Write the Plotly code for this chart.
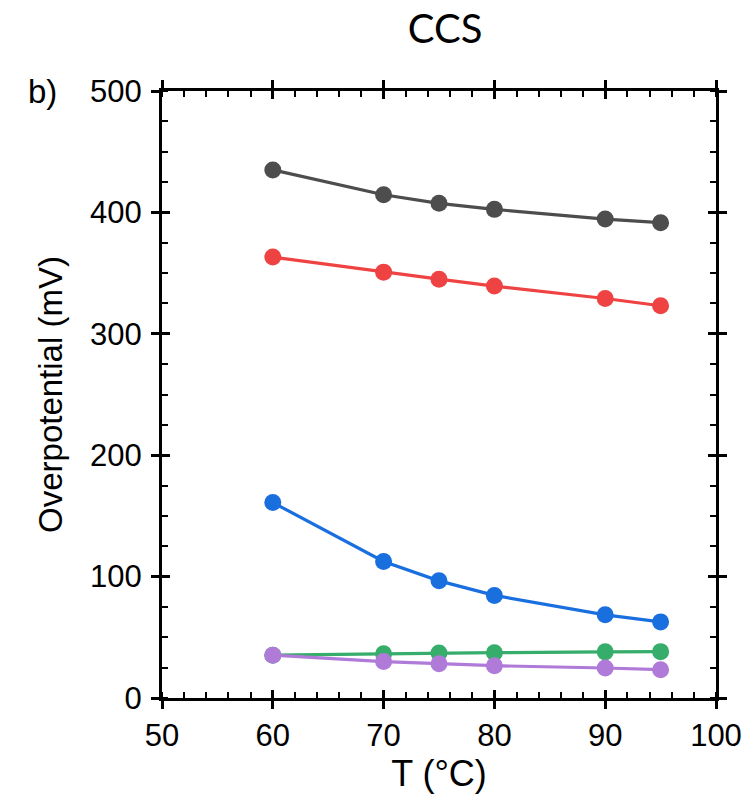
import plotly.graph_objects as go

temps = [60, 70, 75, 80, 90, 95]
gray_vals = [435, 414.5, 407.5, 402.5, 394.5, 391.5]
red_vals = [363.2, 350.8, 345, 339.3, 329.1, 323.1]
blue_vals = [161, 112.5, 96.5, 84.5, 68.5, 62.7]
green_vals = [35.3, 36.5, 37, 37.3, 38, 38.2]
purple_vals = [35.3, 30, 28.3, 26.6, 24.7, 23.3]

series = [
    ("gray", gray_vals, "#4d4d4d"),
    ("red", red_vals, "#ef4343"),
    ("blue", blue_vals, "#1a6fdf"),
    ("green", green_vals, "#37ad6b"),
    ("purple", purple_vals, "#b07ad9"),
]

x_ticks = [50, 60, 70, 80, 90, 100]
y_ticks = [0, 100, 200, 300, 400, 500]

fig = go.Figure()
for name, vals, col in series:
    fig.add_trace(go.Scatter(
        x=temps, y=vals, mode="lines+markers", name=name,
        line=dict(color=col, width=3.2),
        marker=dict(color=col, size=17),
        showlegend=False, hoverinfo="skip",
    ))
# invisible trace on overlay axes so the crossing inner ticks get drawn
fig.add_trace(go.Scatter(x=temps, y=gray_vals, xaxis="x2", yaxis="y2",
                         mode="markers", marker=dict(opacity=0), showlegend=False,
                         hoverinfo="skip"))

font_family = "Liberation Sans, Arial, sans-serif"
axis_common = dict(
    showline=True, linecolor="black", linewidth=3,
    ticks="outside", ticklen=8, tickwidth=3, tickcolor="black",
    mirror="allticks", showgrid=False, zeroline=False, automargin=False,
    tickfont=dict(family=font_family, size=31, color="black"),
)

fig.update_layout(
    width=748, height=795,
    margin=dict(l=162, r=32, t=91, b=97),
    plot_bgcolor="white", paper_bgcolor="white",
    title=dict(text="CCS", x=0.595, xanchor="center", y=0.9635, yanchor="middle",
               font=dict(family="Lato, sans-serif", size=40, color="black"),
               automargin=False),
    xaxis=dict(
        range=[50, 100], tickvals=x_ticks, ticktext=[str(v) for v in x_ticks],
        minor=dict(ticks="inside", ticklen=6, tickwidth=2, dtick=2, tick0=50, tickcolor="black"),
        title=dict(text="T (°C)", font=dict(family=font_family, size=36, color="black"), standoff=0),
        **axis_common,
    ),
    yaxis=dict(
        range=[0, 500], tickvals=y_ticks, ticktext=[str(v) for v in y_ticks],
        minor=dict(ticks="inside", ticklen=6, tickwidth=2, dtick=25, tick0=0, tickcolor="black"),
        title=dict(text="Overpotential (mV)", font=dict(family=font_family, size=33, color="black"), standoff=18),
        ticklabelstandoff=3,
        **axis_common,
    ),
    xaxis2=dict(
        overlaying="x", range=[50, 100], tickvals=x_ticks, showticklabels=False,
        ticks="inside", ticklen=8, tickwidth=3, tickcolor="black", automargin=False,
        mirror="allticks", showline=False, showgrid=False, zeroline=False,
    ),
    yaxis2=dict(
        overlaying="y", range=[0, 500], tickvals=y_ticks, showticklabels=False,
        ticks="inside", ticklen=8, tickwidth=3, tickcolor="black", automargin=False,
        mirror="allticks", showline=False, showgrid=False, zeroline=False,
    ),
    annotations=[dict(text="b)", xref="paper", yref="paper", x=-0.215, y=1.0,
                      xanchor="center", yanchor="middle", showarrow=False,
                      font=dict(family=font_family, size=33, color="black"))],
)

fig.write_html("out.html")
